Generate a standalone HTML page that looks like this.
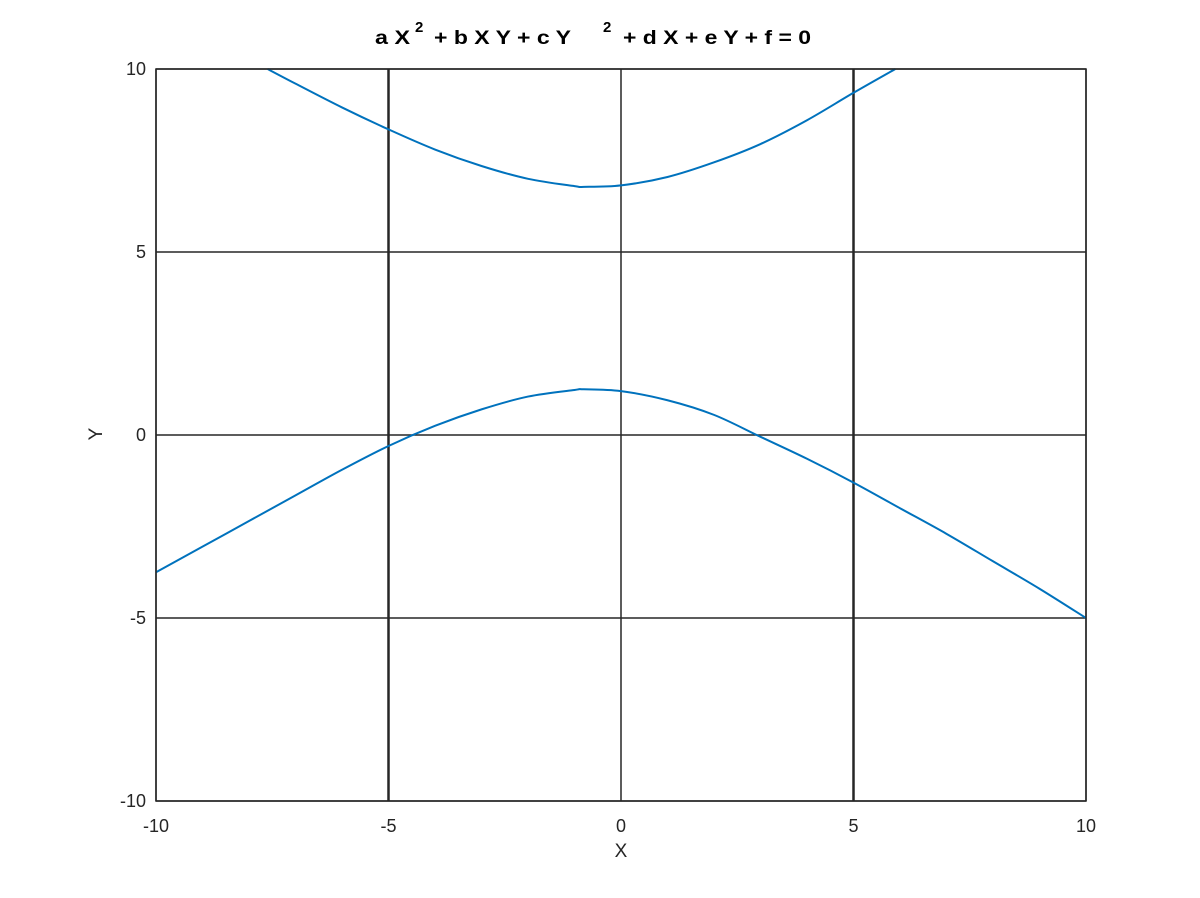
<!DOCTYPE html>
<html><head><meta charset="utf-8"><style>
html,body{margin:0;padding:0;background:#fff;}
svg{display:block;font-family:"Liberation Sans",sans-serif;}
</style></head><body>
<svg id="chart" width="1200" height="898" viewBox="0 0 1200 898">
<g font-weight="bold" font-size="19" fill="#000">
<text x="375" y="44" textLength="35" lengthAdjust="spacingAndGlyphs">a X</text>
<text x="415" y="32" font-size="15">2</text>
<text x="434" y="44" textLength="137" lengthAdjust="spacingAndGlyphs">+ b X Y + c Y</text>
<text x="603" y="32" font-size="15">2</text>
<text x="623" y="44" textLength="188" lengthAdjust="spacingAndGlyphs">+ d X + e Y + f = 0</text>
</g>
<g id="grid"></g>
<g id="curves"></g>
<rect x="156" y="69" width="930" height="732" fill="none" stroke="#262626" stroke-width="1.5"/>
<g id="ticks" font-size="18" fill="#262626"></g>
<text x="621" y="857" text-anchor="middle" font-size="19" fill="#262626">X</text>
<text x="102" y="434" text-anchor="middle" font-size="19" fill="#262626" transform="rotate(-90 102 434)">Y</text>
</svg>
<script>
const xTicks=[-10,-5,0,5,10];
const yTicks=[-10,-5,0,5,10];
const upperX=[-7.6,-7,-6,-5,-4,-3,-2,-1,-0.8,0,1,2,3,4,5,5.9];
const upperY=[10,9.6,8.95,8.35,7.8,7.35,7.0,6.8,6.78,6.82,7.05,7.45,7.95,8.6,9.35,10];
const lowerX=[-10,-9,-8,-7,-6,-5,-4,-3,-2,-1,-0.8,0,1,2,3,4,5,6,7,8,9,10];
const lowerY=[-3.75,-3.05,-2.35,-1.65,-0.95,-0.3,0.25,0.7,1.05,1.23,1.25,1.2,0.95,0.55,-0.05,-0.65,-1.3,-2.0,-2.7,-3.45,-4.2,-5.0];
const NS='http://www.w3.org/2000/svg';
const X0=156,X1=1086,Y0=801,Y1=69;
function sx(v){return X0+(v+10)/20*(X1-X0);}
function sy(v){return Y0-(v+10)/20*(Y0-Y1);}
const grid=document.getElementById('grid'),ticks=document.getElementById('ticks'),curves=document.getElementById('curves');
xTicks.forEach(t=>{
 const l=document.createElementNS(NS,'line');
 
 
 l.setAttribute('x1',sx(t));l.setAttribute('x2',sx(t));l.setAttribute('y1',Y1);l.setAttribute('y2',Y0);
 l.setAttribute('stroke','#262626');l.setAttribute('stroke-width',Math.abs(t)===5?2.5:1.5);
 grid.appendChild(l);
 const tx=document.createElementNS(NS,'text');
 
 
 tx.setAttribute('x',sx(t));tx.setAttribute('y',832);tx.setAttribute('text-anchor','middle');
 tx.textContent=t;ticks.appendChild(tx);
});
yTicks.forEach(t=>{
 const l=document.createElementNS(NS,'line');
 
 
 l.setAttribute('x1',X0);l.setAttribute('x2',X1);l.setAttribute('y1',sy(t));l.setAttribute('y2',sy(t));
 l.setAttribute('stroke','#262626');l.setAttribute('stroke-width',1.5);
 grid.appendChild(l);
 const tx=document.createElementNS(NS,'text');
 
 
 tx.setAttribute('x',146);tx.setAttribute('y',sy(t)+6);tx.setAttribute('text-anchor','end');
 tx.textContent=t;ticks.appendChild(tx);
});
function smooth(xs,ys){
 const p=xs.map((x,i)=>[sx(x),sy(ys[i])]);
 let d='M'+p[0][0]+','+p[0][1];
 for(let i=0;i<p.length-1;i++){
  const a=p[Math.max(0,i-1)],b=p[i],c=p[i+1],e=p[Math.min(p.length-1,i+2)];
  const c1=[b[0]+(c[0]-a[0])/6,b[1]+(c[1]-a[1])/6],c2=[c[0]-(e[0]-b[0])/6,c[1]-(e[1]-b[1])/6];
  d+=' C'+c1[0]+','+c1[1]+' '+c2[0]+','+c2[1]+' '+c[0]+','+c[1];
 }
 return d;
}
[[upperX,upperY,'upper-branch'],[lowerX,lowerY,'lower-branch']].forEach(s=>{
 const p=document.createElementNS(NS,'path');
 
 
 p.setAttribute('d',smooth(s[0],s[1]));
 p.setAttribute('fill','none');p.setAttribute('stroke','#0072bd');p.setAttribute('stroke-width',2);
 curves.appendChild(p);
});
</script>
</body></html>
